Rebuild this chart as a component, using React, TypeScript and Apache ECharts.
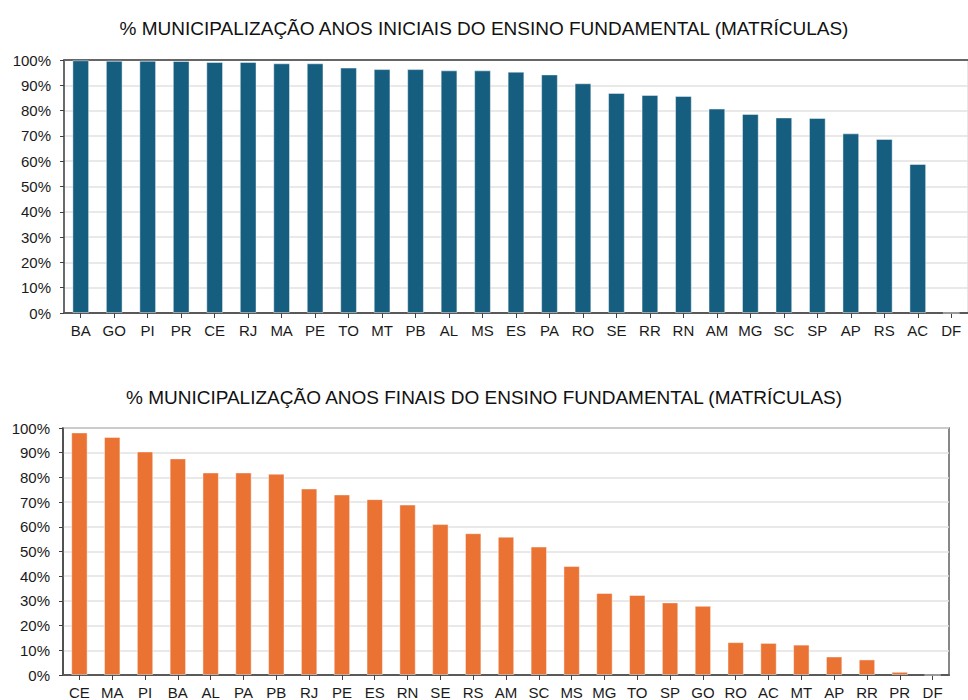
import React, { useEffect, useRef } from "react";
import * as echarts from "echarts";

const titleTop = "% MUNICIPALIZAÇÃO ANOS INICIAIS DO ENSINO FUNDAMENTAL (MATRÍCULAS)";
const titleBottom = "% MUNICIPALIZAÇÃO ANOS FINAIS DO ENSINO FUNDAMENTAL (MATRÍCULAS)";

const statesTop = ["BA", "GO", "PI", "PR", "CE", "RJ", "MA", "PE", "TO", "MT", "PB", "AL", "MS", "ES", "PA", "RO", "SE", "RR", "RN", "AM", "MG", "SC", "SP", "AP", "RS", "AC", "DF"];
const valuesTop = [99.9, 99.7, 99.7, 99.6, 99.2, 99.2, 98.7, 98.7, 97.0, 96.4, 96.4, 95.9, 95.9, 95.4, 94.3, 90.8, 87.0, 86.2, 85.8, 80.8, 78.7, 77.3, 77.1, 71.0, 68.8, 58.9, 0];

const statesBottom = ["CE", "MA", "PI", "BA", "AL", "PA", "PB", "RJ", "PE", "ES", "RN", "SE", "RS", "AM", "SC", "MS", "MG", "TO", "SP", "GO", "RO", "AC", "MT", "AP", "RR", "PR", "DF"];
const valuesBottom = [98.2, 96.4, 90.5, 87.7, 82.0, 82.0, 81.5, 75.5, 73.1, 71.2, 69.0, 61.1, 57.4, 56.0, 52.0, 44.1, 33.2, 32.4, 29.4, 28.0, 13.3, 13.0, 12.3, 7.5, 6.3, 1.3, 0];

const FONT = "'Liberation Sans', Arial, sans-serif";

export default function App() {
  const ref = useRef<HTMLDivElement>(null);
  useEffect(() => {
    document.body.style.margin = "0";
    const chart = echarts.init(ref.current!, null, { renderer: "svg" });
    const yAxisBase = (gridIndex: number) => ({
      type: "value",
      gridIndex,
      min: 0,
      max: 100,
      interval: 10,
      axisLabel: { formatter: "{value}%", fontSize: 15, color: "#1a1a1a", fontFamily: FONT, margin: 13 },
      axisLine: { show: true, lineStyle: { color: "#404040", width: 1.5 } },
      axisTick: { show: true, length: 4, lineStyle: { color: "#404040" } },
      splitLine: { show: true, lineStyle: { color: "#e2e2e2", width: 1.5 } },
    });
    const xAxisBase = (gridIndex: number, data: string[]) => ({
      type: "category",
      gridIndex,
      data,
      axisLabel: { fontSize: 15, color: "#1a1a1a", fontFamily: FONT, margin: 10, interval: 0 },
      axisLine: { show: true, lineStyle: { color: "#595959", width: 2 } },
      axisTick: { show: true, alignWithLabel: true, length: 5, lineStyle: { color: "#404040" } },
    });
    chart.setOption({
      animation: false,
      title: [
        { text: titleTop, left: "center", top: 14, textStyle: { fontSize: 19, fontWeight: "normal", color: "#111", fontFamily: FONT } },
        { text: titleBottom, left: "center", top: 383, textStyle: { fontSize: 19, fontWeight: "normal", color: "#111", fontFamily: FONT } },
      ],
      grid: [
        { left: 64, top: 60, width: 904, height: 253, show: true, borderColor: "#d0d0d0", borderWidth: 1 },
        { left: 63, top: 428, width: 886, height: 249, show: true, borderColor: "#606060", borderWidth: 1.5 },
      ],
      xAxis: [
        xAxisBase(0, statesTop),
        xAxisBase(1, statesBottom),
        {
          type: "category",
          gridIndex: 0,
          position: "top",
          data: statesTop,
          axisLabel: { show: false },
          axisTick: { show: false },
          axisLine: { show: true, lineStyle: { color: "#666", width: 2 } },
        },
      ],
      yAxis: [yAxisBase(0), yAxisBase(1)],
      series: [
        {
          type: "bar",
          xAxisIndex: 0,
          yAxisIndex: 0,
          data: valuesTop,
          barWidth: "50%",
          itemStyle: { color: "#165e80", borderColor: "rgba(255,255,255,0.45)", borderWidth: 1 },
        },
        {
          type: "bar",
          xAxisIndex: 1,
          yAxisIndex: 1,
          data: valuesBottom,
          barWidth: "50%",
          itemStyle: { color: "#ea7233", borderColor: "rgba(255,255,255,0.45)", borderWidth: 1 },
        },
      ],
    });
    return () => chart.dispose();
  }, []);
  return <div ref={ref} style={{ width: 968, height: 700 }} />;
}
